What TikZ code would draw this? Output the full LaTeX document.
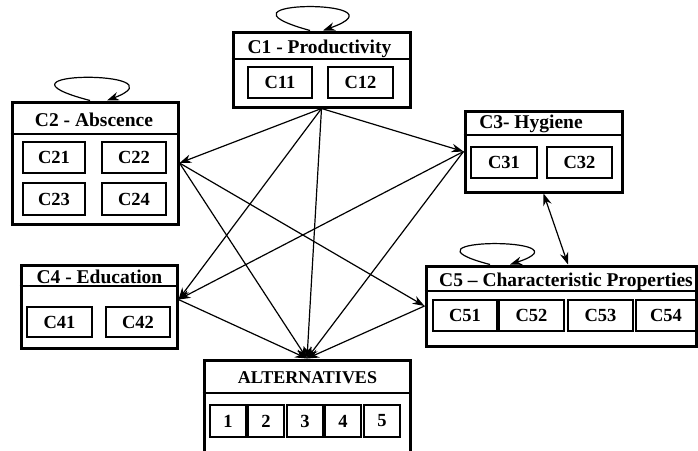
\documentclass[tikz,border=0pt]{standalone}
\usepackage{fontspec}
\setmainfont{Liberation Serif}
\usetikzlibrary{arrows.meta}
\begin{document}
\begin{tikzpicture}[x=1pt,y=-1pt,
  outer/.style={draw, line width=3pt, rectangle, inner sep=0pt},
  cell/.style={draw, line width=1.5pt, rectangle, inner sep=0pt,
    minimum height=31pt, font=\fontsize{18.5}{18.5}\selectfont\bfseries},
  title/.style={anchor=base, inner sep=0pt, font=\fontsize{19.5}{19.5}\selectfont\bfseries},
  sep/.style={line width=1.2pt},
  tip/.tip={Stealth[length=12pt,width=8.5pt]},
  link/.style={line width=1.2pt, -tip},
  both/.style={line width=1.2pt, tip-tip}]
\useasboundingbox (0,0) rectangle (698,450);
\clip (0,0) rectangle (698,450);

% C1 - Productivity
\node[outer, minimum width=177pt, minimum height=75pt] (C1) at (321.5,69.5) {};
\draw[sep] (C1.west |- 0,59) -- (C1.east |- 0,59);
\node[title] (C1t) at (319.5,53) {C1 - Productivity};
\node[cell, minimum width=64pt] (C11) at (280,82.5) {C11};
\node[cell, minimum width=65pt] (C12) at (360.5,82.5) {C12};

% C2 - Abscence
\node[outer, minimum width=166pt, minimum height=122pt] (C2) at (95,163) {};
\draw[sep] (C2.west |- 0,134) -- (C2.east |- 0,134);
\node[title] (C2t) at (94,126.5) {C2 - Abscence};
\node[cell, minimum width=62pt] (C21) at (54,157.5) {C21};
\node[cell, minimum width=64pt] (C22) at (134,157.5) {C22};
\node[cell, minimum width=62pt, minimum height=32pt] (C23) at (54,199) {C23};
\node[cell, minimum width=64pt, minimum height=32pt] (C24) at (134,199) {C24};

% C3 - Hygiene
\node[outer, minimum width=157pt, minimum height=81pt] (C3) at (543.5,151.5) {};
\draw[sep] (C3.west |- 0,135) -- (C3.east |- 0,135);
\node[title] (C3t) at (531,128.5) {C3- Hygiene};
\node[cell, minimum width=66pt] (C31) at (504,162.5) {C31};
\node[cell, minimum width=65pt] (C32) at (579.5,162.5) {C32};

% C4 - Education
\node[outer, minimum width=156pt, minimum height=83pt] (C4) at (99,306.5) {};
\draw[sep] (C4.west |- 0,286) -- (C4.east |- 0,286);
\node[title] (C4t) at (99.5,283) {C4 - Education};
\node[cell, minimum width=65pt, minimum height=30pt] (C41) at (59.5,322) {C41};
\node[cell, minimum width=64pt, minimum height=30pt] (C42) at (138,322) {C42};

% C5 - Characteristic Properties
\node[outer, minimum width=270pt, minimum height=80pt] (C5) at (561,306) {};
\draw[sep] (C5.west |- 0,291) -- (C5.east |- 0,291);
\node[title] (C5t) at (566,286) {C5 -- Characteristic Properties};
\node[cell, minimum width=64pt] (C51) at (465,315.5) {C51};
\node[cell, minimum width=65pt] (C52) at (531.5,315.5) {C52};
\node[cell, minimum width=65pt] (C53) at (600.5,315.5) {C53};
\node[cell, minimum width=60pt] (C54) at (666,315.5) {C54};

% Alternatives
\node[outer, minimum width=206pt, minimum height=110pt] (ALT) at (307,415) {};
\draw[sep] (ALT.west |- 0,393) -- (ALT.east |- 0,393);
\node[title, font=\fontsize{18}{18}\selectfont\bfseries] (ALTt) at (307.5,383.5) {ALTERNATIVES};
\node[cell, minimum width=36pt, minimum height=32pt] (A1) at (228,421) {1};
\node[cell, minimum width=36pt, minimum height=32pt] (A2) at (266,421) {2};
\node[cell, minimum width=36pt, minimum height=32pt] (A3) at (305,421) {3};
\node[cell, minimum width=36pt, minimum height=32pt] (A4) at (343,421) {4};
\node[cell, minimum width=36pt, minimum height=32pt] (A5) at (382,421) {5};

% influences between criteria
\draw[link] (C1.south) -- (C2.east);
\draw[link] (C1.south) -- (C3.west);
\draw[link] (C1.south) -- (C4.5);
\draw[link] (C1.south) -- (ALT.north);
\draw[link] (C2.east) -- (C5.west);
\draw[link] (C2.east) -- (ALT.north);
\draw[link] (C3.west) -- (C4.5);
\draw[link] (C3.west) -- (ALT.north);
\draw[link] (C4.5) -- (ALT.north);
\draw[link] (C5.west) -- (ALT.north);
\draw[both] (C3.south) -- ([xshift=7pt]C5.north);

% self-influence loops
\draw[link] ([xshift=-11.5pt]C1.north) .. controls (196,-1) and (412,-1) .. ([xshift=1.5pt]C1.north);
\draw[link] ([xshift=-5pt]C2.north) .. controls (-26,70) and (187,70) .. ([xshift=12pt]C2.north);
\draw[link] ([xshift=-71pt]C5.north) .. controls (385,237) and (594,237) .. ([xshift=-51pt]C5.north);
\end{tikzpicture}
\end{document}
